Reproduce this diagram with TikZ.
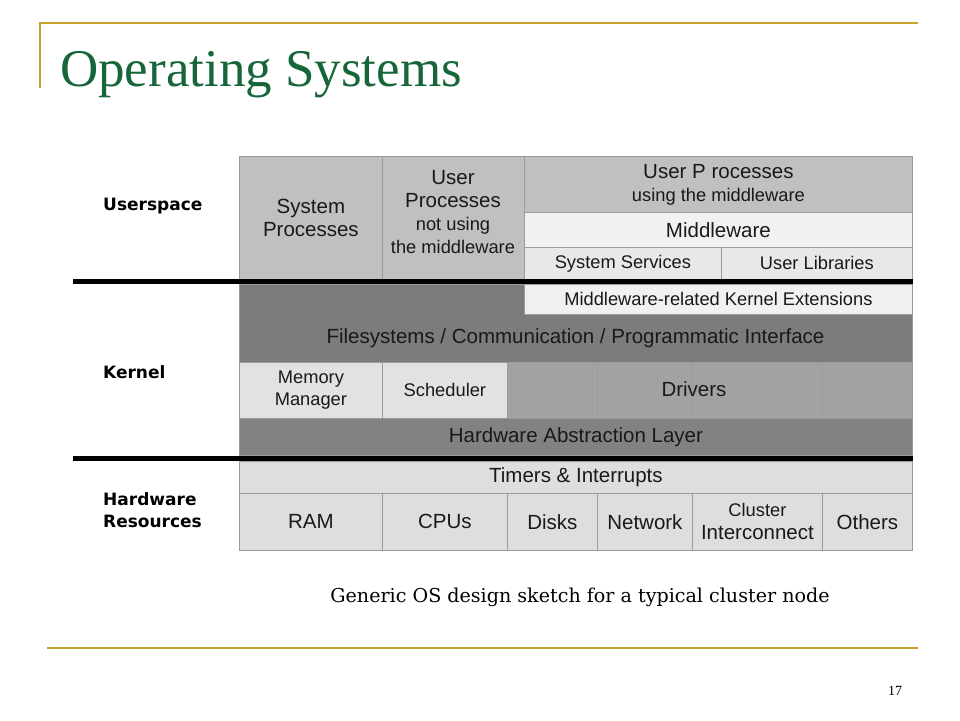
\documentclass[tikz,border=0pt]{standalone}
\usepackage{fontspec}
\setmainfont{Liberation Serif}
\setsansfont{Liberation Sans}
\newfontfamily\capfont{DejaVu Serif}
\newfontfamily\labfont{DejaVu Sans}
\newcommand\smallsz{\fontsize{18.3}{22}\selectfont}
\definecolor{gold}{RGB}{198,162,42}
\definecolor{titlegreen}{RGB}{22,102,58}
\definecolor{gridgray}{RGB}{155,155,155}
\definecolor{procgray}{RGB}{192,192,192}
\definecolor{mwlight}{RGB}{241,241,241}
\definecolor{svclight}{RGB}{232,232,232}
\definecolor{kdark}{RGB}{124,124,124}
\definecolor{memlight}{RGB}{226,226,226}
\definecolor{drvgray}{RGB}{162,162,162}
\definecolor{haldark}{RGB}{130,130,130}
\definecolor{hwlight}{RGB}{222,222,222}
\tikzset{>=stealth}
\tikzset{
  cell/.style={draw=gridgray, line width=.8pt, anchor=north west, inner sep=0pt,
    align=center, text=black!90, font=\sffamily\fontsize{20.5}{23}\selectfont},
  smallcell/.style={cell, font=\sffamily\smallsz},
  celltext/.style={cell, draw=none, anchor=center},
  layer/.style={anchor=west, align=left, inner sep=0pt,
    font=\labfont\bfseries\fontsize{17}{22}\selectfont},
  goldrule/.style={draw=gold, line width=2.5pt},
  blackrule/.style={draw=black, line width=5pt}
}

\begin{document}
\begin{tikzpicture}[x=1pt,y=-1pt]
    \fill[white] (0,0) rectangle (960,720);
    \useasboundingbox (0,0) rectangle (960,720);
    \coordinate (tv) at (40,88);
    \coordinate (tl) at (40,23);
    \coordinate (tr) at (918,23);
    \coordinate (bl) at (47,648);
    \coordinate (br) at (918,648);
    \draw[goldrule] (tv) -- (tl) -- (tr);
    \draw[goldrule] (bl) -- (br);
    \node[anchor=base west, inner sep=0pt, text=titlegreen,
      font=\fontsize{53}{60}\selectfont] (title) at (60,86) {Operating Systems};

    \node[cell, fill=procgray, minimum width=143pt, minimum height=123pt]
      (sysproc) at (239,156) {System\\Processes};
    \node[cell, fill=procgray, minimum width=142pt, minimum height=123pt]
      (userproc) at (382,156) {};
    \node[celltext] (userproctext) at (453,212.5)
      {User\\Processes\\{\smallsz not using}\\{\smallsz the middleware}};
    \node[cell, fill=procgray, minimum width=388pt, minimum height=56pt]
      (mwproc) at (524,156) {User P rocesses\\{\smallsz using the middleware}};
    \node[cell, fill=mwlight, minimum width=388pt, minimum height=35pt]
      (mware) at (524,212) {Middleware};
    \node[smallcell, fill=svclight, minimum width=197pt, minimum height=32pt]
      (syssvc) at (524,247) {System Services};
    \node[smallcell, fill=svclight, minimum width=191pt, minimum height=32pt]
      (userlib) at (721,247) {User Libraries};

    \node[cell, fill=kdark, minimum width=673pt, minimum height=78pt]
      (fsys) at (239,284) {};
    \node[smallcell, fill=mwlight, minimum width=388pt, minimum height=30pt]
      (mke) at (524,283.5) {Middleware-related Kernel Extensions};
    \node[celltext] (fsystext) at (575.5,338)
      {Filesystems / Communication / Programmatic Interface};
    \node[smallcell, fill=memlight, minimum width=143pt, minimum height=56pt]
      (memmgr) at (239,362) {Memory\\Manager};
    \node[smallcell, fill=memlight, minimum width=125pt, minimum height=56pt]
      (sched) at (382,362) {Scheduler};
    \foreach \x/\w/\n in {507/90/drva,597/95/drvb,692/130/drvc,822/90/drvd} {
        \node[cell, fill=drvgray, minimum width=\w pt, minimum height=56pt]
          (\n) at (\x,362) {};
      }
    \node[celltext] (drivers) at (694,389) {Drivers};
    \node[cell, fill=haldark, minimum width=673pt, minimum height=37pt]
      (hal) at (239,418) {Hardware Abstraction Layer};

    \node[cell, fill=hwlight, minimum width=673pt, minimum height=32pt]
      (timers) at (239,461) {Timers \& Interrupts};
    \foreach \x/\w/\n/\t in {239/143/ram/RAM,382/125/cpus/CPUs,507/90/disks/Disks,
        597/95/net/Network,692/130/clus/{\smallsz Cluster\\Interconnect},822/90/oth/Others} {
        \node[cell, fill=hwlight, minimum width=\w pt, minimum height=57pt]
          (\n) at (\x,493) {\t};
      }

    \coordinate (uline) at (73,281.5);
    \coordinate (kline) at (73,458);
    \draw[blackrule] (uline) -- (uline -| userlib.east);
    \draw[blackrule] (kline) -- (kline -| hal.east);

    \node[layer] (uspace) at (103,206) {Userspace};
    \node[layer] (kernel) at (103,372) {Kernel};
    \node[layer] (hwres) at (103,510) {Hardware\\Resources};

    \node[anchor=base, inner sep=0pt, font=\capfont\fontsize{19.1}{22}\selectfont]
      (caption) at (580,602) {Generic OS design sketch for a typical cluster node};
    \node[anchor=base, inner sep=0pt, font=\fontsize{14}{16}\selectfont]
      (pagenum) at (895,695) {17};
  \end{tikzpicture}
\end{document}
